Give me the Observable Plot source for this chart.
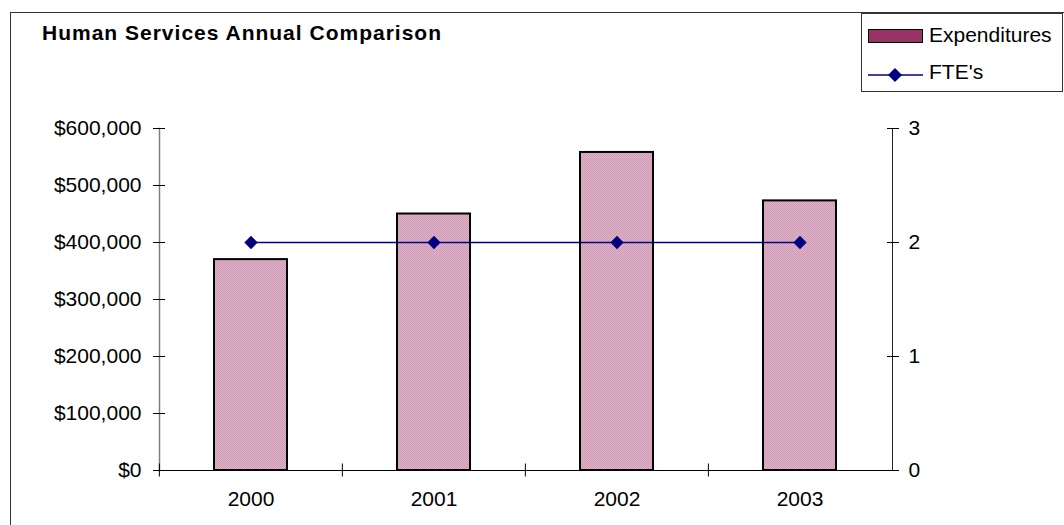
<!DOCTYPE html>
<html>
<head>
<meta charset="utf-8">
<script src="https://cdn.jsdelivr.net/npm/d3@7"></script>
<script src="https://cdn.jsdelivr.net/npm/@observablehq/plot@0.6"></script>
<style>
  html, body { margin: 0; padding: 0; background: #fff; }
  #wrap { position: relative; width: 1064px; height: 525px; overflow: hidden; font-family: "Liberation Sans", Arial, sans-serif; }
  #border { position: absolute; left: 10px; top: 12px; width: 1200px; height: 700px; border: 1.5px solid #333; box-sizing: border-box; }
  #title { position: absolute; left: 42px; top: 22px; font-size: 21px; line-height: 21px; font-weight: bold; letter-spacing: 1px; white-space: nowrap; }
  #legend { position: absolute; left: 861px; top: 13px; width: 202px; height: 79px; border: 1px solid #333; box-sizing: border-box; background: #fff; }
  .lt { position: absolute; left: 67px; font-size: 21px; line-height: 21px; white-space: nowrap; }
  #plot { position: absolute; left: 0; top: 0; }
</style>
</head>
<body>
<svg width="0" height="0" style="position:absolute">
  <defs>
    <pattern id="dots" width="2" height="2" patternUnits="userSpaceOnUse">
      <rect width="2" height="2" fill="#dcb0c6"></rect>
      <rect width="1" height="1" fill="#cf9db6"></rect>
      <rect x="1" y="1" width="1" height="1" fill="#cf9db6"></rect>
    </pattern>
  </defs>
</svg>
<div id="wrap">
  <div id="border"></div>
  <div id="plot"></div>
  <div id="title">Human Services Annual Comparison</div>
  <div id="legend">
    <div style="position:absolute;left:6px;top:15px;width:55px;height:14px;background:#993366;border:1.5px solid #000;box-sizing:border-box;"></div>
    <div class="lt" style="top:10px;">Expenditures</div>
    <svg style="position:absolute;left:6px;top:53px;" width="56" height="16">
      <line x1="0" y1="8" x2="55" y2="8" stroke="#000080" stroke-width="1.5"></line>
      <path d="M27,1 L34,8 L27,15 L20,8 Z" fill="#000080"></path>
    </svg>
    <div class="lt" style="top:47px;">FTE's</div>
  </div>
</div>
<script>
const years = ["2000", "2001", "2002", "2003"];
const expenditures = [370000, 450000, 558000, 473000];
const ftes = [2, 2, 2, 2];
const leftTicks = [0, 100000, 200000, 300000, 400000, 500000, 600000];
const rightTicks = [0, 1, 2, 3];

const fteScale = 200000; // 3 FTE on the right axis = $600,000 on the left
const rows = years.map((y, i) => ({year: y, exp: expenditures[i], fte: ftes[i], fteMapped: ftes[i] * fteScale}));

const W = 1064, H = 525, mL = 159, mR = 172, mT = 128, mB = 55;
const step = (W - mL - mR) / years.length;
const font = "21px 'Liberation Sans', Arial, sans-serif";

const chart = Plot.plot({
  width: W, height: H,
  marginLeft: mL, marginRight: mR, marginTop: mT, marginBottom: mB,
  style: {font, background: "transparent", color: "#000"},
  x: {type: "band", domain: years, paddingInner: 0.6, paddingOuter: 0.3, axis: null},
  y: {domain: [0, 600000], axis: null},
  marks: [
    Plot.barY(rows, {x: "year", y: "exp", fill: "url(#dots)", stroke: "#000", strokeWidth: 2}),
    Plot.frame({anchor: "left", stroke: "#808080", strokeWidth: 1.5}),
    Plot.frame({anchor: "right", stroke: "#222", strokeWidth: 1}),
    Plot.ruleY([0], {stroke: "#000", strokeWidth: 1}),
    // left axis: cross ticks + labels
    Plot.axisY({anchor: "left", ticks: leftTicks, tickSize: 12, dx: 6, fill: "none", stroke: "#000", label: null}),
    Plot.axisY({anchor: "left", ticks: leftTicks, tickSize: 0, tickPadding: 18, tickFormat: d3.format("$,"), fontSize: 21, label: null}),
    // right axis (FTE)
    Plot.axisY({anchor: "right", ticks: rightTicks.map(d => d * fteScale), tickSize: 12, dx: -6, fill: "none", stroke: "#000", label: null}),
    Plot.axisY({anchor: "right", ticks: rightTicks.map(d => d * fteScale), tickSize: 0, tickPadding: 16, tickFormat: d => String(d / fteScale), fontSize: 21, label: null}),
    // x axis: boundary cross ticks + category labels
    Plot.axisX({anchor: "bottom", tickSize: 13, dy: -6.5, dx: -step / 2, fill: "none", stroke: "#000", label: null}),
    Plot.axisX({anchor: "bottom", tickSize: 0, tickPadding: 21, fontSize: 21, label: null}),
    // FTE line
    Plot.line(rows, {x: "year", y: "fteMapped", stroke: "#000080", strokeWidth: 1.5}),
    Plot.dot(rows, {x: "year", y: "fteMapped", symbol: "diamond2", r: 6, fill: "#000080", stroke: "none"})
  ]
});
document.getElementById("plot").appendChild(chart);
</script>
</body>
</html>
